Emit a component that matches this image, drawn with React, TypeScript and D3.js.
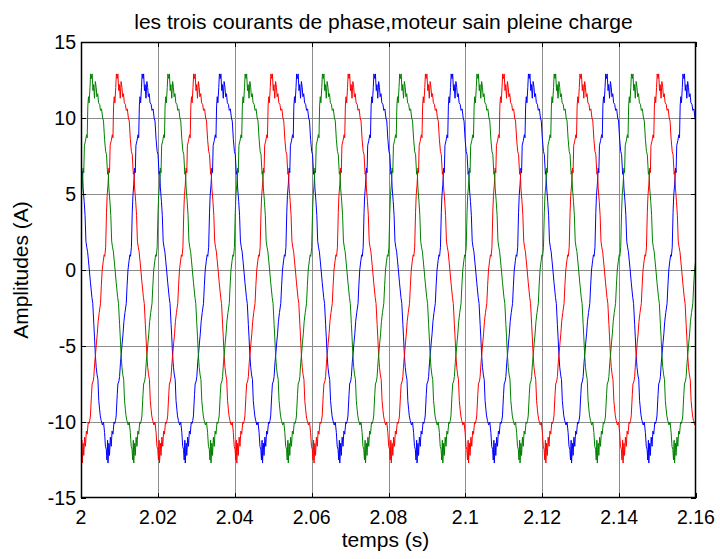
import React, { useEffect, useRef } from "react";
import * as d3 from "d3";

// Time axis ticks (s) and amplitude ticks (A)
const xTicks = [2, 2.02, 2.04, 2.06, 2.08, 2.1, 2.12, 2.14, 2.16];
const xTickLabels = ["2", "2.02", "2.04", "2.06", "2.08", "2.1", "2.12", "2.14", "2.16"];
const yTicks = [-15, -10, -5, 0, 5, 10, 15];

// One period of the measured phase current, read from the trace:
// electrical angle (deg) from the rising zero crossing, and current (A)
const cycleAngle = [
  0, 5, 9, 12, 16, 20, 23, 27, 31, 34, 37, 42, 47, 50, 53, 56, 59, 63, 66, 70,
  73, 77, 80, 84, 88, 92, 95, 99, 103, 108, 112, 117, 122, 126, 131, 136, 140,
  145, 148, 151, 156, 160, 164, 168, 172, 176, 180,
  185, 192, 196, 201, 204, 208, 212, 216, 220, 224, 228, 231, 235, 241, 246,
  251, 255, 259, 262, 265, 267, 271, 274, 278, 282, 286, 290, 295, 298, 302,
  305, 310, 313, 318, 321, 325, 329, 333, 337, 341, 346, 352, 356, 360,
];
const cycleCurrent = [
  0.0, 0.6, 1.0, 0.9, 1.5, 3.8, 4.9, 5.6, 6.7, 6.4, 8.2, 8.5, 8.9, 8.7, 10.8,
  11.4, 11.0, 12.0, 12.9, 12.6, 12.9, 11.8, 12.2, 11.3, 12.4, 12.0, 11.4, 11.6,
  11.0, 10.9, 10.5, 10.6, 10.0, 9.8, 8.6, 7.8, 7.6, 6.3, 6.5, 5.4, 4.5, 3.6,
  1.9, 1.5, 1.2, 0.6, 0.0,
  -0.8, -1.8, -2.2, -3.6, -4.4, -5.6, -6.4, -6.9, -7.2, -8.6, -9.2, -9.6, -9.9,
  -10.2, -10.0, -10.7, -11.6, -11.8, -12.5, -11.2, -12.7, -11.4, -12.2, -11.0,
  -11.6, -10.6, -10.8, -10.0, -10.1, -9.9, -9.6, -8.2, -7.5, -7.3, -7.0, -6.1,
  -5.5, -4.8, -4.2, -3.4, -2.8, -2.2, -1.0, 0.0,
];

const phaseNames = ["A", "B", "C"];
const phaseZeroCrossing = [2.01222, 2.00552, 1.99882];
const phaseColors = ["#0000ff", "#ff0000", "#008000"];
const period = 0.0201; // s

const W = 720;
const H = 559;
const M = { left: 81, right: 696, top: 42, bottom: 498 };

export default function App() {
  const ref = useRef<SVGSVGElement>(null);

  useEffect(() => {
    const svg = d3.select(ref.current);
    svg.selectAll("*").remove();
    const font = "Arial, 'Liberation Sans', sans-serif";

    const x = d3.scaleLinear().domain([2, 2.16]).range([M.left, M.right]);
    const y = d3.scaleLinear().domain([-15, 15]).range([M.bottom, M.top]);

    svg.append("rect").attr("width", W).attr("height", H).attr("fill", "#fff");

    svg
      .append("defs")
      .append("clipPath")
      .attr("id", "plotclip")
      .append("rect")
      .attr("x", M.left)
      .attr("y", M.top)
      .attr("width", M.right - M.left)
      .attr("height", M.bottom - M.top);

    // grid
    const grid = svg.append("g").attr("stroke", "#8c8c8c").attr("stroke-width", 1);
    xTicks.slice(1, -1).forEach((t) => {
      const px = Math.round(x(t)) + 0.5;
      grid.append("line").attr("x1", px).attr("x2", px).attr("y1", M.top).attr("y2", M.bottom);
    });
    yTicks.slice(1, -1).forEach((v) => {
      const py = Math.round(y(v)) + 0.5;
      grid.append("line").attr("x1", M.left).attr("x2", M.right).attr("y1", py).attr("y2", py);
    });

    // series
    const line = d3
      .line<[number, number]>()
      .x((d) => x(d[0]))
      .y((d) => y(d[1]));
    const plot = svg.append("g").attr("clip-path", "url(#plotclip)");
    phaseNames.forEach((_, i) => {
      const pts: [number, number][] = [];
      for (let k = -1; k < 10; k++) {
        cycleAngle.forEach((a, j) => {
          if (k > -1 && j === 0) return;
          pts.push([phaseZeroCrossing[i] + (k + a / 360) * period, cycleCurrent[j]]);
        });
      }
      plot
        .append("path")
        .attr("d", line(pts))
        .attr("fill", "none")
        .attr("stroke", phaseColors[i])
        .attr("stroke-width", 1);
    });

    // axes box
    svg
      .append("rect")
      .attr("x", M.left + 0.5)
      .attr("y", M.top + 0.5)
      .attr("width", M.right - M.left - 1)
      .attr("height", M.bottom - M.top - 1)
      .attr("fill", "none")
      .attr("stroke", "#000")
      .attr("stroke-width", 1.5);

    // ticks
    const tk = svg.append("g").attr("stroke", "#000").attr("stroke-width", 1);
    const tl = 5;
    xTicks.forEach((t) => {
      const px = Math.round(x(t)) + 0.5;
      tk.append("line").attr("x1", px).attr("x2", px).attr("y1", M.bottom).attr("y2", M.bottom - tl);
      tk.append("line").attr("x1", px).attr("x2", px).attr("y1", M.top).attr("y2", M.top + tl);
    });
    yTicks.forEach((v) => {
      const py = Math.round(y(v)) + 0.5;
      tk.append("line").attr("x1", M.left).attr("x2", M.left + tl).attr("y1", py).attr("y2", py);
      tk.append("line").attr("x1", M.right).attr("x2", M.right - tl).attr("y1", py).attr("y2", py);
    });

    // tick labels
    xTicks.forEach((t, i) => {
      svg
        .append("text")
        .attr("x", x(t))
        .attr("y", 524)
        .attr("text-anchor", "middle")
        .attr("font-family", font)
        .attr("font-size", 19.5)
        .attr("fill", "#000")
        .text(xTickLabels[i]);
    });
    yTicks.forEach((v) => {
      svg
        .append("text")
        .attr("x", 76)
        .attr("y", y(v) + 7)
        .attr("text-anchor", "end")
        .attr("font-family", font)
        .attr("font-size", 19.5)
        .attr("fill", "#000")
        .text(String(v));
    });

    // title and axis labels
    svg
      .append("text")
      .attr("x", (M.left + M.right) / 2 - 5)
      .attr("y", 29)
      .attr("text-anchor", "middle")
      .attr("font-family", font)
      .attr("font-size", 21)
      .attr("fill", "#000")
      .text("les trois courants de phase,moteur sain pleine charge");
    svg
      .append("text")
      .attr("x", (M.left + M.right) / 2 - 3)
      .attr("y", 547)
      .attr("text-anchor", "middle")
      .attr("font-family", font)
      .attr("font-size", 21)
      .attr("fill", "#000")
      .text("temps (s)");
    svg
      .append("text")
      .attr("transform", `translate(28, ${(M.top + M.bottom) / 2}) rotate(-90)`)
      .attr("text-anchor", "middle")
      .attr("font-family", font)
      .attr("font-size", 21)
      .attr("fill", "#000")
      .text("Amplitudes (A)");
  }, []);

  return (
    <svg
      ref={ref}
      width={W}
      height={H}
      style={{ position: "absolute", left: 0, top: 0, display: "block" }}
    />
  );
}
